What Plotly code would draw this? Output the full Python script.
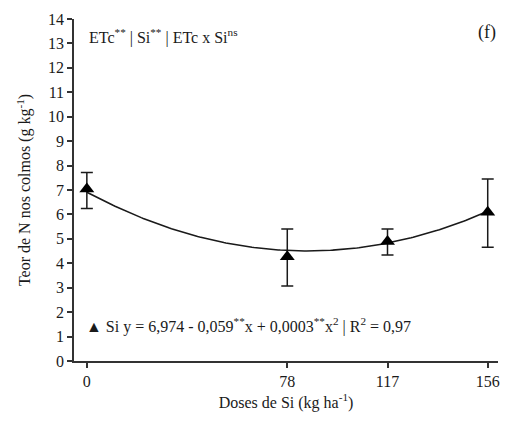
import numpy as np
import plotly.graph_objects as go

doses = [0, 78, 117, 156]
teor_n = [7.04, 4.27, 4.89, 6.09]
err_plus = [0.68, 1.13, 0.51, 1.36]
err_minus = [0.80, 1.20, 0.55, 1.43]
# regression curve heights at each dose
curve_read = [6.92, 4.47, 4.90, 6.10]
x_ticks = [0, 78, 117, 156]
y_ticks = list(range(0, 15))

coef = np.polyfit(doses, curve_read, 2)
xs = np.linspace(0, 156, 200)
ys = np.polyval(coef, xs)

FONT = "Liberation Serif"
INK = "#1a1a1a"

fig = go.Figure()
fig.add_trace(go.Scatter(x=xs, y=ys, mode="lines",
                         line=dict(color=INK, width=1.6), hoverinfo="skip",
                         showlegend=False))
fig.add_trace(go.Scatter(x=doses, y=teor_n, mode="markers",
                         marker=dict(symbol="triangle-up", size=13, color="black"),
                         error_y=dict(type="data", array=err_plus, arrayminus=err_minus,
                                      color=INK, thickness=1.5, width=6),
                         showlegend=False))

fig.update_layout(
    width=508, height=423,
    margin=dict(l=74, r=8, t=19, b=62),
    paper_bgcolor="white", plot_bgcolor="white",
    font=dict(family=FONT, size=16, color=INK),
    xaxis=dict(range=[-5, 160], tickvals=x_ticks, showgrid=False, zeroline=False,
               showline=True, linecolor="#333", linewidth=1.5,
               ticks="outside", ticklen=5, tickcolor="#333", tickwidth=1.5,
               tickfont=dict(size=16),
               title=dict(text="Doses de Si (kg ha<sup>-1</sup>)", standoff=8,
                          font=dict(size=16))),
    yaxis=dict(range=[0, 14], tickvals=y_ticks, showgrid=False, zeroline=False,
               showline=True, linecolor="#333", linewidth=1.5,
               ticks="outside", ticklen=5, tickcolor="#333", tickwidth=1.5,
               tickfont=dict(size=16),
               title=dict(text="Teor de N nos colmos (g kg<sup>-1</sup>)", standoff=13,
                          font=dict(size=16))),
    annotations=[
        dict(x=0, y=13.3, xref="x", yref="y", xanchor="left", yanchor="middle",
             text="ETc<sup>**</sup> | Si<sup>**</sup> | ETc x Si<sup>ns</sup>",
             showarrow=False, font=dict(size=16)),
        dict(x=1, y=13.45, xref="paper", yref="y", xanchor="right", yanchor="middle",
             text="(f)", showarrow=False, font=dict(size=18)),
        dict(x=-1, y=1.45, xref="x", yref="y", xanchor="left", yanchor="middle",
             text="▲ Si y = 6,974 - 0,059<sup>**</sup>x + 0,0003<sup>**</sup>x<sup>2</sup> | R<sup>2</sup> = 0,97",
             showarrow=False, font=dict(size=16)),
    ],
)

fig.write_html("out.html")
